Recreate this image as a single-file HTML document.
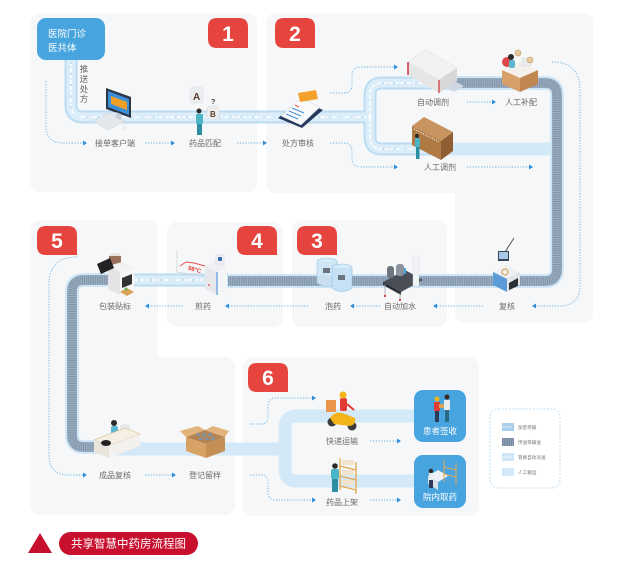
<!DOCTYPE html>
<html><head><meta charset="utf-8">
<style>
html,body{margin:0;padding:0;background:#fff;width:620px;height:565px;overflow:hidden}
svg{display:block}
text{font-family:"Liberation Sans","Noto Sans CJK SC",sans-serif}
.lb{font-size:8px;fill:#6a6a6a;text-anchor:middle}
.num{font-size:21px;font-weight:bold;fill:#fff;text-anchor:middle}
.dot{fill:none;stroke:#6fb4e6;stroke-width:0.9;stroke-dasharray:1.3 1.5}
.ah{fill:#2f8fdb}
.lg{font-size:4.6px;fill:#777}
</style></head>
<body>
<svg width="620" height="565" viewBox="0 0 620 565" xmlns="http://www.w3.org/2000/svg">
<!-- panels -->
<g fill="#f6f7f8">
<rect x="30" y="13" width="227" height="179" rx="10"/>
<rect x="266" y="13" width="327" height="180" rx="10"/>
<rect x="455" y="13" width="138" height="310" rx="10"/>
<rect x="30" y="220" width="128" height="295" rx="10"/>
<rect x="30" y="357" width="205" height="158" rx="10"/>
<rect x="167" y="222" width="116" height="105" rx="10"/>
<rect x="292" y="220" width="155" height="107" rx="10"/>
<rect x="243" y="357" width="236" height="159" rx="10"/>
</g>

<!-- manual carry bands -->
<g fill="none" stroke="#d3e9f8" stroke-width="13">
<path d="M445,149 H552"/>
<path d="M110,449 H285"/>
<path d="M415,416 H297 Q285,416 285,428 V469 Q285,481 297,481 H415"/>
</g>

<!-- light pipes -->
<g fill="none" stroke-linecap="butt">
<g stroke="#bcdcf3" stroke-width="13">
<path d="M71,58 V105 Q71,117 83,117 H370"/>
<path d="M370,117 V95 Q370,83 382,83 H440"/>
<path d="M370,117 V137 Q370,149 382,149 H447"/>
<path d="M228,280 H128"/>
</g>
<g stroke="#dcedfa" stroke-width="9">
<path d="M71,58 V105 Q71,117 83,117 H370"/>
<path d="M370,117 V95 Q370,83 382,83 H440"/>
<path d="M370,117 V137 Q370,149 382,149 H447"/>
<path d="M228,280 H128"/>
</g>
<g stroke="#ffffff" stroke-width="1.6" stroke-dasharray="4 2">
<path d="M71,62 V105 Q71,117 83,117 H370"/>
<path d="M370,117 V95 Q370,83 382,83 H440"/>
<path d="M370,117 V137 Q370,149 382,149 H447"/>
<path d="M228,280 H128"/>
</g>
<g stroke="#9fc9ea" stroke-width="1" stroke-dasharray="2 9">
<path d="M71,62 V105 Q71,117 83,117 H370"/>
<path d="M382,83 H440"/>
<path d="M382,149 H447"/>
<path d="M228,280 H128"/>
</g>
</g>

<!-- conveyor belts -->
<g fill="none">
<g stroke="#cfe6f7" stroke-width="14">
<path d="M440,83 H545 Q557,83 557,95 V269 Q557,281 545,281 H228"/>
<path d="M130,280 H84 Q72,280 72,292 V435 Q72,447 84,447 H112"/>
</g>
<g stroke="#9fb1c3" stroke-width="10">
<path d="M440,83 H545 Q557,83 557,95 V269 Q557,281 545,281 H228"/>
<path d="M130,280 H84 Q72,280 72,292 V435 Q72,447 84,447 H112"/>
</g>
<g stroke="#7b8fa5" stroke-width="9" stroke-dasharray="0.8 1">
<path d="M440,83 H545 Q557,83 557,95 V269 Q557,281 545,281 H228"/>
<path d="M130,280 H84 Q72,280 72,292 V435 Q72,447 84,447 H112"/>
</g>
</g>

<!-- hospital box -->
<rect x="37" y="18" width="68" height="42" rx="9" fill="#47a4df"/>
<text x="48" y="37" font-size="9.5" fill="#fff">医院门诊</text>
<text x="48" y="51" font-size="9.5" fill="#fff">医共体</text>
<g font-size="8.5" fill="#666" text-anchor="middle">
<text x="84" y="72">推</text><text x="84" y="82">送</text><text x="84" y="92">处</text><text x="84" y="102">方</text>
</g>

<!-- badges -->
<g fill="#e6443f">
<path d="M217,18 H239 Q248,18 248,27 V48 H217 Q208,48 208,39 V27 Q208,18 217,18 Z"/>
<path d="M284,18 H306 Q315,18 315,27 V48 H284 Q275,48 275,39 V27 Q275,18 284,18 Z"/>
<path d="M46,226 H68 Q77,226 77,235 V255 H46 Q37,255 37,246 V235 Q37,226 46,226 Z"/>
<path d="M246,226 H268 Q277,226 277,235 V255 H246 Q237,255 237,246 V235 Q237,226 246,226 Z"/>
<path d="M306,226 H328 Q337,226 337,235 V255 H306 Q297,255 297,246 V235 Q297,226 306,226 Z"/>
<path d="M257,363 H279 Q288,363 288,372 V392 H257 Q248,392 248,383 V372 Q248,363 257,363 Z"/>
</g>
<text class="num" x="228" y="41">1</text>
<text class="num" x="295" y="41">2</text>
<text class="num" x="57" y="248">5</text>
<text class="num" x="257" y="248">4</text>
<text class="num" x="317" y="248">3</text>
<text class="num" x="268" y="385">6</text>

<!-- illustrations -->
<polygon points="93,121 110,113 125,121 108,130" fill="#e4e8ec" stroke="#c9ced4" stroke-width="0.5"/>
<polygon points="106,88 131,97 131,118 106,109" fill="#2b3646"/>
<polygon points="108,91 129,99 129,115 108,107" fill="#3b8fd9"/>
<polygon points="111,96 127,102 127,110 111,104" fill="#f0a028"/>
<polygon points="116,112 121,114 121,120 116,118" fill="#c8ced6"/>
<circle cx="125" cy="128" r="1.5" fill="#e6e8eb"/>
<rect x="190" y="87" width="13" height="16" rx="3" fill="#eceef0" stroke="#d8dade" stroke-width="0.5"/>
<text x="193" y="100" font-size="10" font-weight="bold" fill="#5a3a2a">A</text>
<text x="211" y="104" font-size="7" font-weight="bold" fill="#444">?</text>
<rect x="207" y="106" width="12" height="13" rx="3" fill="#eceef0" stroke="#d8dade" stroke-width="0.5"/>
<text x="210" y="117" font-size="8" font-weight="bold" fill="#5a3a2a">B</text>
<circle cx="199" cy="111" r="2.5" fill="#2b2b2b"/>
<rect x="196" y="114" width="7" height="10" rx="1.5" fill="#4bb5c7"/>
<rect x="197" y="124" width="5" height="11" fill="#2a8fa3"/>
<polygon points="278,118 300,100 323,110 302,128" fill="#273a5c"/>
<polygon points="281,116 301,98 320,107 301,125" fill="#f8f9fb" stroke="#d0d7e0" stroke-width="0.5"/>
<polygon points="298,93 316,90 318,99 300,102" fill="#f2a22c"/>
<g stroke="#4a8fdc" stroke-width="1"><line x1="292" y1="108" x2="304" y2="113"/><line x1="289" y1="111" x2="301" y2="116"/><line x1="286" y1="114" x2="298" y2="119"/></g>
<g stroke="#e85a4f" stroke-width="1"><line x1="295" y1="105" x2="299" y2="107"/></g>
<polygon points="408,62 426,50 457,68 439,80" fill="#f2f2f2" stroke="#dcdcdc" stroke-width="0.5"/>
<polygon points="408,62 439,80 439,93 408,75" fill="#e6e6e6"/>
<polygon points="439,80 457,68 457,81 439,93" fill="#d8d8d8"/>
<line x1="408" y1="62" x2="408" y2="75" stroke="#d0303a" stroke-width="1.5"/>
<line x1="439" y1="80" x2="439" y2="93" stroke="#d0303a" stroke-width="1.2"/>
<polygon points="446,88 456,82 464,86 454,92" fill="#cfd8e3"/>
<polygon points="502,70 520,62 538,70 520,78" fill="#f4f1ec"/>
<polygon points="502,70 520,78 520,92 502,84" fill="#d6a068"/>
<polygon points="520,78 538,70 538,84 520,92" fill="#bf8650"/>
<circle cx="507" cy="62" r="5" fill="#e04848"/>
<circle cx="511" cy="57" r="3" fill="#2a2a2a"/>
<rect x="509" y="60" width="6" height="8" rx="2" fill="#5ab7cf"/>
<rect x="522" y="58" width="9" height="8" fill="#e9ecef" stroke="#ccc" stroke-width="0.4"/>
<circle cx="518" cy="53" r="3" fill="#e8c8a0" stroke="#c99a64" stroke-width="0.6"/>
<circle cx="530" cy="60" r="3" fill="#e8c8a0" stroke="#c99a64" stroke-width="0.6"/>
<polygon points="412,126 424,117 453,132 441,141" fill="#c89460"/>
<polygon points="412,126 441,141 441,160 412,145" fill="#b07a45"/>
<polygon points="441,141 453,132 453,151 441,160" fill="#8f5e33"/>
<line x1="414" y1="129" x2="439" y2="142" stroke="#f2e6d6" stroke-width="1.3" stroke-dasharray="1.2 1.3"/>
<circle cx="417" cy="136" r="2" fill="#2a2a2a"/>
<rect x="415" y="138" width="5" height="9" rx="1.5" fill="#4bb5c7"/>
<rect x="416" y="147" width="3.5" height="12" fill="#2a8fa3"/>
<line x1="505" y1="252" x2="514" y2="238" stroke="#555" stroke-width="1"/>
<rect x="498" y="251" width="11" height="10" fill="#3b4654"/>
<rect x="499" y="252" width="9" height="7" fill="#a8c8e8"/>
<polygon points="493,272 506,265 520,272 507,279" fill="#eef0f2"/>
<polygon points="493,272 507,279 507,292 493,285" fill="#5b9bd8"/>
<polygon points="507,279 520,272 520,285 507,292" fill="#e2e5e8"/>
<polygon points="509,283 518,278 518,286 509,290" fill="#2a2f36"/>
<circle cx="505" cy="272" r="3" fill="none" stroke="#d9a35a" stroke-width="1.2"/>
<polygon points="383,282 405,270 423,280 401,292" fill="#4a4f57"/>
<polygon points="383,282 401,292 401,295 383,285" fill="#2a2e34"/>
<rect x="413" y="256" width="6" height="30" fill="#f2f3f5" stroke="#d2d5d9" stroke-width="0.4"/>
<rect x="396" y="264" width="8" height="12" rx="3" fill="#8b939c"/>
<rect x="387" y="266" width="7" height="12" rx="3" fill="#6d757e"/>
<rect x="404" y="268" width="2" height="6" fill="#4aa3df"/>
<g stroke="#9aa1a9" stroke-width="0.8"><line x1="385" y1="284" x2="385" y2="296"/><line x1="400" y1="293" x2="400" y2="300"/></g>
<g fill="#e04545"><rect x="384" y="295" width="2" height="2"/><rect x="399" y="299" width="2" height="2"/></g>
<ellipse cx="327" cy="262" rx="10" ry="4" fill="#d8ecf8" stroke="#8fc2e6" stroke-width="0.6"/>
<path d="M317,262 V283 Q327,290 337,283 V262" fill="#cfe6f6" stroke="#8fc2e6" stroke-width="0.6" opacity="0.9"/>
<ellipse cx="342" cy="268" rx="10" ry="4" fill="#d8ecf8" stroke="#8fc2e6" stroke-width="0.6"/>
<path d="M332,268 V288 Q342,295 352,288 V268" fill="#c6e1f4" stroke="#8fc2e6" stroke-width="0.6"/>
<rect x="323" y="268" width="7" height="5" fill="#6c7480"/>
<rect x="338" y="275" width="7" height="5" fill="#6c7480"/>
<polyline points="177,250 177,272 208,277" fill="none" stroke="#c8c8c8" stroke-width="0.6"/>
<polyline points="180,266 186,262 194,263 205,266" fill="none" stroke="#e85050" stroke-width="1"/>
<text x="188" y="271" font-size="6" font-weight="bold" fill="#e0403a" transform="rotate(15 193 269)">98°C</text>
<polygon points="205,266 215,260 227,266 217,272" fill="#eef0f2"/>
<polygon points="205,266 217,272 217,295 205,289" fill="#e6e8eb"/>
<polygon points="217,272 227,266 227,289 217,295" fill="#f4f5f6"/>
<line x1="217" y1="272" x2="217" y2="295" stroke="#3a88d6" stroke-width="1"/>
<rect x="216" y="255" width="8" height="9" fill="#eef0f2" stroke="#ccd" stroke-width="0.4"/>
<rect x="218" y="257" width="4" height="4" fill="#3a6fb0"/>
<circle cx="209" cy="285" r="0.9" fill="#e04545"/>
<ellipse cx="115" cy="256" rx="6" ry="3" fill="#e8e2da"/>
<rect x="109" y="256" width="12" height="9" fill="#9b7058"/>
<polygon points="108,266 122,262 134,268 120,272" fill="#f2f2f2"/>
<polygon points="108,266 120,272 120,295 108,289" fill="#e4e4e4"/>
<polygon points="120,272 134,268 134,290 120,295" fill="#f7f7f7"/>
<polygon points="97,264 110,258 114,268 101,274" fill="#222"/>
<polygon points="122,278 132,274 132,284 122,288" fill="#333"/>
<polygon points="120,292 127,288 134,292 127,296" fill="#d9a35a"/>
<circle cx="126" cy="289" r="1.5" fill="#6bb35a"/>
<circle cx="114" cy="423" r="3" fill="#2a2a2a"/>
<rect x="111" y="426" width="7" height="8" rx="2" fill="#5ab7cf"/>
<rect x="121" y="425" width="8" height="8" fill="#e9ecef" stroke="#ccc" stroke-width="0.4"/>
<polygon points="94,440 125,428 140,434 109,446" fill="#f5efe4" stroke="#d6b98a" stroke-width="0.6"/>
<polygon points="94,440 109,446 109,458 94,452" fill="#e9e4dc"/>
<polygon points="109,446 140,434 140,446 109,458" fill="#f3f1ee"/>
<ellipse cx="106" cy="443" rx="5" ry="3" fill="#222"/>
<polygon points="186,437 205,430 225,437 206,444" fill="#b48450"/>
<polygon points="186,437 206,444 206,458 186,451" fill="#d8a265"/>
<polygon points="206,444 225,437 225,451 206,458" fill="#c48e55"/>
<polygon points="186,437 180,431 198,426 205,430" fill="#e2b47c"/>
<polygon points="225,437 229,431 213,426 205,430" fill="#e2b47c"/>
<g fill="#8a9098"><rect x="196" y="433" width="4" height="3"/><rect x="202" y="433" width="4" height="3"/><rect x="208" y="433" width="4" height="3"/><rect x="199" y="437" width="4" height="3"/><rect x="205" y="437" width="4" height="3"/><rect x="211" y="437" width="4" height="3"/></g>
<circle cx="332" cy="422" r="4.5" fill="#3a3a3a"/>
<circle cx="352" cy="426" r="4.5" fill="#3a3a3a"/>
<path d="M330,418 Q335,410 345,414 L355,418 Q356,425 350,426 L334,424 Z" fill="#f2b418"/>
<rect x="326" y="400" width="10" height="12" fill="#e9964a"/>
<rect x="340" y="398" width="7" height="13" rx="2" fill="#e03c34"/>
<circle cx="343" cy="395" r="3.5" fill="#f2b418"/>
<line x1="347" y1="404" x2="354" y2="410" stroke="#e03c34" stroke-width="2"/>
<g stroke="#e4a850" stroke-width="1.3" fill="none">
<line x1="340" y1="458" x2="340" y2="490"/><line x1="356" y1="462" x2="356" y2="494"/>
<line x1="340" y1="466" x2="356" y2="470"/><line x1="340" y1="476" x2="356" y2="480"/><line x1="340" y1="486" x2="356" y2="490"/>
</g>
<g fill="#f1e3cc"><rect x="342" y="460" width="12" height="5"/><rect x="342" y="470" width="12" height="5"/><rect x="342" y="480" width="12" height="5"/></g>
<circle cx="335" cy="466" r="2.8" fill="#2a2a2a"/>
<rect x="331" y="469" width="8" height="10" rx="2" fill="#4bb5c7"/>
<rect x="332" y="479" width="6" height="13" fill="#2a8fa3"/>

<!-- destination boxes -->
<rect x="414" y="390" width="52" height="52" rx="9" fill="#47a4df"/>
<rect x="414" y="455" width="52" height="53" rx="9" fill="#47a4df"/>
<circle cx="437" cy="399" r="2.5" fill="#f2b418"/>
<rect x="434" y="402" width="6" height="9" fill="#e03c34"/>
<rect x="435" y="411" width="4" height="11" fill="#2a3c5a"/>
<circle cx="447" cy="397" r="2.5" fill="#3a2a20"/>
<rect x="444" y="400" width="6" height="10" fill="#e8ecef"/>
<rect x="445" y="410" width="4" height="12" fill="#2a6a8a"/>
<rect x="439" y="404" width="5" height="4" fill="#d9a35a"/>
<text x="440" y="434" font-size="8.5" fill="#fff" text-anchor="middle">患者签收</text>
<polygon points="428,476 438,470 448,476 438,482" fill="#eef2f6"/>
<polygon points="428,476 438,482 438,490 428,484" fill="#d9e2ea"/>
<g stroke="#e4a850" stroke-width="1" fill="none"><line x1="444" y1="460" x2="444" y2="482"/><line x1="456" y1="463" x2="456" y2="485"/><line x1="444" y1="467" x2="456" y2="470"/><line x1="444" y1="474" x2="456" y2="477"/></g>
<circle cx="431" cy="471" r="2.2" fill="#2a2a2a"/>
<rect x="429" y="473" width="4" height="7" fill="#e8ecef"/>
<rect x="429" y="480" width="4" height="8" fill="#2a3c5a"/>
<text x="440" y="500" font-size="8.5" fill="#fff" text-anchor="middle">院内取药</text>

<!-- legend -->
<rect x="490" y="409" width="70" height="79" rx="8" fill="#fff" stroke="#aed4f0" stroke-width="0.8" stroke-dasharray="2 1.5"/>
<rect x="502" y="423" width="12" height="8" fill="#a9cfee"/>
<line x1="503" y1="427" x2="513" y2="427" stroke="#fff" stroke-width="0.8" stroke-dasharray="1.5 1"/>
<rect x="502" y="438" width="12" height="8" fill="#8ea2b7"/>
<line x1="502" y1="442" x2="514" y2="442" stroke="#6f849a" stroke-width="8" stroke-dasharray="0.8 1"/>
<rect x="502" y="453" width="12" height="8" fill="#cfe6f7"/>
<line x1="503" y1="457" x2="513" y2="457" stroke="#fff" stroke-width="1" stroke-dasharray="1.5 1"/>
<rect x="502" y="468" width="12" height="8" fill="#d3e9f8"/>
<text class="lg" x="518" y="429">加密传输</text>
<text class="lg" x="518" y="444">传送带输送</text>
<text class="lg" x="518" y="459">管路自动派送</text>
<text class="lg" x="518" y="474">人工搬运</text>

<!-- dotted flows -->
<path class="dot" d="M46,81 V126 Q46,143 63,143 H84"/>
<path class="dot" d="M145,143 H171"/>
<path class="dot" d="M237,143 H263"/>
<path class="dot" d="M330,93 H344 Q352,93 352,84 V76 Q352,67 361,67 H394"/>
<path class="dot" d="M330,143 H344 Q352,143 352,152 V158 Q352,167 361,167 H394"/>
<path class="dot" d="M467,102 H492"/>
<path class="dot" d="M467,167 H529"/>
<path class="dot" d="M552,62 Q580,62 580,90 V285 Q580,306 559,306 H535"/>
<path class="dot" d="M483,306 H436"/>
<path class="dot" d="M380,306 H353"/>
<path class="dot" d="M308,306 H228"/>
<path class="dot" d="M183,306 H148"/>
<path class="dot" d="M77,257 Q49,257 49,285 V455 Q49,475 69,475 H84"/>
<path class="dot" d="M145,475 H172"/>
<path class="dot" d="M250,424 H261 Q268,424 268,416 V406 Q268,398 276,398 H312"/>
<path class="dot" d="M250,475 H261 Q268,475 268,483 V492 Q268,500 276,500 H312"/>
<path class="dot" d="M370,441 H397"/>
<path class="dot" d="M370,500 H397"/>
<g class="ah">
<polygon points="83,140.5 87,143 83,145.5"/>
<polygon points="171,140.5 175,143 171,145.5"/>
<polygon points="263,140.5 267,143 263,145.5"/>
<polygon points="394,64.5 398,67 394,69.5"/>
<polygon points="394,164.5 398,167 394,169.5"/>
<polygon points="492,99.5 496,102 492,104.5"/>
<polygon points="529,164.5 533,167 529,169.5"/>
<polygon points="536,303.5 532,306 536,308.5"/>
<polygon points="437,303.5 433,306 437,308.5"/>
<polygon points="354,303.5 350,306 354,308.5"/>
<polygon points="229,303.5 225,306 229,308.5"/>
<polygon points="149,303.5 145,306 149,308.5"/>
<polygon points="83,472.5 87,475 83,477.5"/>
<polygon points="172,472.5 176,475 172,477.5"/>
<polygon points="312,395.5 316,398 312,400.5"/>
<polygon points="312,497.5 316,500 312,502.5"/>
<polygon points="397,438.5 401,441 397,443.5"/>
<polygon points="397,497.5 401,500 397,502.5"/>
</g>

<!-- labels -->
<text class="lb" x="115" y="146">接单客户端</text>
<text class="lb" x="205" y="146">药品匹配</text>
<text class="lb" x="298" y="146">处方审核</text>
<text class="lb" x="433" y="105">自动调剂</text>
<text class="lb" x="521" y="105">人工补配</text>
<text class="lb" x="440" y="170">人工调剂</text>
<text class="lb" x="507" y="309">复核</text>
<text class="lb" x="400" y="309">自动加水</text>
<text class="lb" x="333" y="309">泡药</text>
<text class="lb" x="203" y="309">煎药</text>
<text class="lb" x="115" y="309">包装贴标</text>
<text class="lb" x="115" y="478">成品复核</text>
<text class="lb" x="205" y="478">登记留样</text>
<text class="lb" x="342" y="444">快递运输</text>
<text class="lb" x="342" y="505">药品上架</text>

<!-- title -->
<polygon points="40,533 52,553 28,553" fill="#c8102e"/>
<rect x="59" y="532" width="139" height="23" rx="11.5" fill="#c8102e"/>
<text x="128.5" y="547.5" font-size="11.5" fill="#fff" text-anchor="middle">共享智慧中药房流程图</text>
</svg>
</body></html>
